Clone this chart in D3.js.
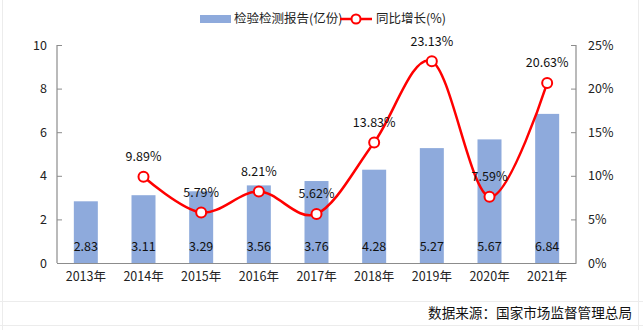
<!DOCTYPE html>
<html><head><meta charset="utf-8">
<script src="https://cdn.jsdelivr.net/npm/d3@7"></script>
<style>
html,body{margin:0;padding:0;background:#fff;}
svg{display:block;font-family:"Noto Sans CJK SC","Noto Sans",sans-serif;}
</style></head>
<body><svg id="c" width="643" height="330"></svg>
<script>
const years = ["2013年","2014年","2015年","2016年","2017年","2018年","2019年","2020年","2021年"];
const reports = [2.83,3.11,3.29,3.56,3.76,4.28,5.27,5.67,6.84];
const growth = [null,9.89,5.79,8.21,5.62,13.83,23.13,7.59,20.63];
const leftTicks = [0,2,4,6,8,10];
const rightTicks = [0,5,10,15,20,25];
const barLabel = "检验检测报告(亿份)";
const lineLabel = "同比增长(%)";
const sourceText = "数据来源：国家市场监督管理总局";

const svg = d3.select("#c");
const m = {l:57, r:576, t:45, b:263};
const x = d3.scaleBand().domain(years).range([m.l,m.r]).padding(0);
const yL = d3.scaleLinear().domain([0,10]).range([m.b,m.t]);
const yR = d3.scaleLinear().domain([0,25]).range([m.b,m.t]);
const barW = 24, axisCol = "#8c8c8c", txt = "#222";

// frame lines
svg.append("line").attr("x1",2.5).attr("x2",2.5).attr("y1",0).attr("y2",330).attr("stroke","#ececec");
svg.append("line").attr("x1",638.5).attr("x2",638.5).attr("y1",0).attr("y2",330).attr("stroke","#ececec");
svg.append("line").attr("x1",0).attr("x2",643).attr("y1",301.5).attr("y2",301.5).attr("stroke","#ececec");
svg.append("line").attr("x1",0).attr("x2",643).attr("y1",325.5).attr("y2",325.5).attr("stroke","#ececec");

// bars
svg.append("g").selectAll("rect").data(years).join("rect")
  .attr("x",d=>x(d)+x.bandwidth()/2-barW/2).attr("width",barW)
  .attr("y",(d,i)=>yL(reports[i])).attr("height",(d,i)=>m.b-yL(reports[i]))
  .attr("fill","#8eaadc");

// axes
const gL = svg.append("g").attr("transform",`translate(${m.l},0)`)
  .call(d3.axisLeft(yL).tickValues(leftTicks).tickSize(-5).tickPadding(10).tickFormat(d3.format("d")));
const gR = svg.append("g").attr("transform",`translate(${m.r},0)`)
  .call(d3.axisRight(yR).tickValues(rightTicks).tickSize(-5).tickPadding(12).tickFormat(d=>d+"%"));
const gB = svg.append("g").attr("transform",`translate(0,${m.b})`)
  .call(d3.axisBottom(x).tickSize(0).tickPadding(9));
[gL,gR,gB].forEach(g=>{
  g.select(".domain").attr("stroke",axisCol).attr("stroke-width",1.2);
  g.selectAll(".tick line").attr("stroke",axisCol);
  g.selectAll("text").attr("fill",txt).attr("font-size",12.5).attr("font-family","'Noto Sans CJK SC',sans-serif");
});
gL.select(".domain").attr("d",`M0,${m.t}V${m.b}`);
gR.select(".domain").attr("d",`M0,${m.t}V${m.b}`);

// bar labels
svg.append("g").selectAll("text").data(years).join("text")
  .attr("x",d=>x(d)+x.bandwidth()/2).attr("y",247).attr("dy","0.35em")
  .attr("text-anchor","middle").attr("font-size",12.5).attr("fill","#111")
  .text((d,i)=>reports[i].toFixed(2));

// line
const pts = years.map((d,i)=>({x:x(d)+x.bandwidth()/2, v:growth[i]})).filter(p=>p.v!==null);
svg.append("path").datum(pts)
  .attr("d",d3.line().x(p=>p.x).y(p=>yR(p.v)).curve(d3.curveCardinal.tension(0)))
  .attr("fill","none").attr("stroke","#ff0000").attr("stroke-width",2.5);
svg.append("g").selectAll("circle").data(pts).join("circle")
  .attr("cx",p=>p.x).attr("cy",p=>yR(p.v)).attr("r",5)
  .attr("fill","#fff").attr("stroke","#ff0000").attr("stroke-width",2);
svg.append("g").selectAll("text").data(pts).join("text")
  .attr("x",p=>p.x).attr("y",p=>yR(p.v)-20).attr("dy","0.35em")
  .attr("text-anchor","middle").attr("font-size",12.5).attr("fill","#111")
  .text(p=>p.v.toFixed(2)+"%");

// legend
const lg = svg.append("g");
lg.append("rect").attr("x",200).attr("y",15).attr("width",31).attr("height",8).attr("fill","#8eaadc");
lg.append("text").attr("x",234).attr("y",19).attr("dy","0.35em").attr("font-size",12.5).attr("fill",txt).text(barLabel);
lg.append("line").attr("x1",340).attr("x2",372).attr("y1",19).attr("y2",19).attr("stroke","#ff0000").attr("stroke-width",2.5);
lg.append("circle").attr("cx",356).attr("cy",19).attr("r",4.5).attr("fill","#fff").attr("stroke","#ff0000").attr("stroke-width",2);
lg.append("text").attr("x",376).attr("y",19).attr("dy","0.35em").attr("font-size",12.5).attr("fill",txt).text(lineLabel);

// source
svg.append("text").attr("x",632).attr("y",313).attr("dy","0.35em").attr("text-anchor","end")
  .attr("font-size",13.6).attr("fill","#111").text(sourceText);
</script></body></html>
